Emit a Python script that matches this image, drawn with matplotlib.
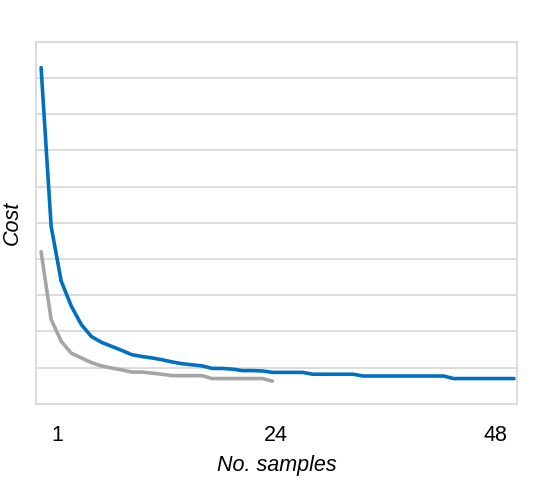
import matplotlib
matplotlib.use("Agg")
import matplotlib.pyplot as plt
import numpy as np

plt.rcParams['font.family'] = ['Liberation Sans', 'DejaVu Sans']

# cost per number of samples
blue_cost = [9.28, 4.9, 3.39, 2.70, 2.19, 1.86, 1.70, 1.59, 1.48, 1.36,
             1.31, 1.27, 1.22, 1.16, 1.11, 1.08, 1.05, 0.98, 0.98, 0.96,
             0.92, 0.92, 0.91, 0.87, 0.87, 0.87, 0.87, 0.82, 0.82, 0.82,
             0.82, 0.82, 0.77, 0.77, 0.77, 0.77, 0.77, 0.77, 0.77, 0.77,
             0.77, 0.70, 0.70, 0.70, 0.70, 0.70, 0.70, 0.70]
gray_cost = [4.2, 2.33, 1.73, 1.40, 1.27, 1.14, 1.05, 0.99, 0.94, 0.88,
             0.88, 0.85, 0.82, 0.78, 0.78, 0.78, 0.78, 0.70, 0.70, 0.70,
             0.70, 0.70, 0.70, 0.63]

blue_x = np.arange(1, len(blue_cost) + 1)
gray_x = np.arange(1, len(gray_cost) + 1)

tick_pos = [2.6, 24.3, 46.2]
tick_labels = ['1', '24', '48']

fig = plt.figure(figsize=(5.38, 4.95), dpi=100)
ax = fig.add_axes([0.067, 0.184, 0.894, 0.732])

ax.plot(blue_x, blue_cost, color='#0070C0', lw=2.6, solid_capstyle='round')
ax.plot(gray_x, gray_cost, color='#A5A5A5', lw=2.6, solid_capstyle='round')

ax.set_xlim(0.5, 48.3)
ax.set_ylim(0, 10)
ax.set_yticks(np.arange(0, 11, 1))
ax.set_yticklabels([])
ax.set_xticks(tick_pos)
ax.set_xticklabels(tick_labels, fontsize=15.5)
ax.tick_params(axis='both', length=0)
ax.tick_params(axis='x', pad=15)
ax.grid(axis='y', color='#D9D9D9', lw=1.3)
ax.set_axisbelow(True)
for s in ax.spines.values():
    s.set_color('#D9D9D9')
    s.set_linewidth(1.3)

ax.set_xlabel('No. samples', fontsize=15.5, style='italic', labelpad=7)
ax.set_ylabel('Cost', fontsize=15.5, style='italic', labelpad=6)

fig.savefig('out.png', dpi=100)
